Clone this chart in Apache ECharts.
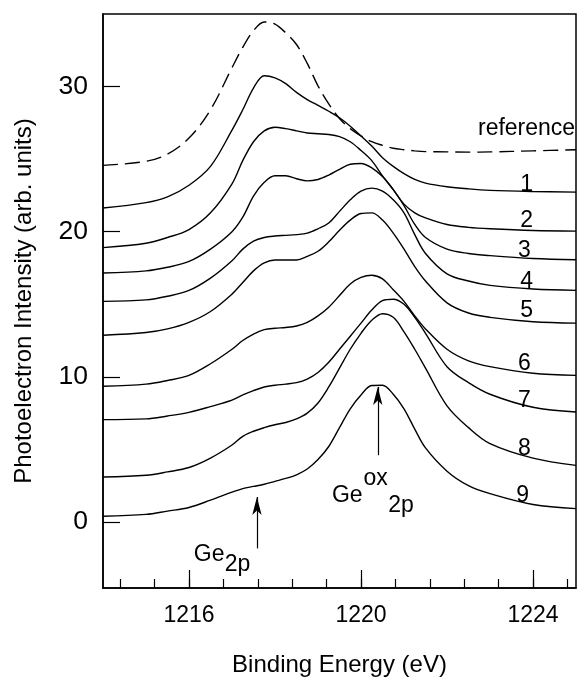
<!DOCTYPE html>
<html><head><meta charset="utf-8">
<script src="https://cdn.jsdelivr.net/npm/echarts@6/dist/echarts.min.js"></script>
<style>html,body{margin:0;padding:0;background:#fff}#c{width:577px;height:679px}</style>
</head><body><div id="c"></div>
<script>
const energy = [1214, 1215, 1215.5, 1216, 1216.5, 1217, 1217.25, 1217.5, 1217.75, 1218, 1218.25, 1218.5, 1218.75, 1219, 1219.25, 1219.5, 1219.75, 1220, 1220.25, 1220.5, 1220.75, 1221, 1221.25, 1221.5, 1222, 1222.5, 1223, 1224, 1225];
const refCurve = [24.57, 24.85, 25.35, 26.45, 28.4, 31.3, 32.7, 33.85, 34.45, 34.3, 33.7, 32.9, 31.6, 30.05, 28.8, 27.8, 27.1, 26.6, 26.2, 25.95, 25.75, 25.65, 25.57, 25.52, 25.5, 25.48, 25.5, 25.57, 25.65];
const curve1 = [21.63, 22.0, 22.4, 23.2, 24.5, 27.0, 28.4, 29.9, 30.75, 30.6, 30.2, 29.6, 29.1, 28.7, 28.3, 27.85, 27.27, 26.6, 25.9, 25.1, 24.5, 24.0, 23.6, 23.35, 23.1, 22.95, 22.85, 22.77, 22.73];
const curve2 = [18.9, 19.2, 19.6, 20.15, 21.3, 23.3, 24.9, 26.2, 26.95, 27.2, 27.1, 26.95, 26.8, 26.75, 26.7, 26.55, 26.2, 25.6, 24.9, 23.85, 22.9, 21.9, 21.3, 20.95, 20.5, 20.3, 20.2, 20.08, 20.04];
const curve3 = [17.15, 17.3, 17.55, 17.95, 18.8, 20.0, 21.0, 22.45, 23.4, 23.85, 23.85, 23.65, 23.5, 23.6, 23.9, 24.3, 24.65, 24.7, 24.4, 23.8, 22.9, 21.8, 20.5, 19.6, 18.8, 18.5, 18.35, 18.15, 18.07];
const curve4 = [15.2, 15.3, 15.55, 15.95, 16.8, 18.0, 18.8, 19.35, 19.6, 19.7, 19.75, 19.8, 19.9, 20.2, 20.6, 21.4, 22.2, 22.8, 23.0, 22.8, 22.2, 21.3, 19.8, 18.5, 17.1, 16.6, 16.3, 16.05, 15.96];
const curve5 = [12.86, 13.05, 13.3, 13.75, 14.5, 15.7, 16.5, 17.3, 17.85, 18.05, 18.05, 18.05, 18.3, 18.65, 19.3, 20.1, 20.8, 21.25, 21.3, 20.8, 19.9, 18.8, 17.6, 16.6, 15.1, 14.4, 14.1, 13.8, 13.7];
const curve6 = [9.35, 9.5, 9.75, 10.1, 10.9, 11.9, 12.5, 12.95, 13.25, 13.35, 13.4, 13.5, 13.75, 14.2, 14.8, 15.6, 16.4, 16.85, 17.0, 16.75, 16.0, 15.2, 14.2, 13.3, 11.9, 11.1, 10.7, 10.25, 10.1];
const curve7 = [7.05, 7.1, 7.3, 7.55, 7.95, 8.4, 8.75, 9.05, 9.3, 9.42, 9.5, 9.6, 9.85, 10.3, 11.0, 11.9, 12.8, 13.7, 14.6, 15.25, 15.35, 15.0, 14.1, 13.0, 10.7, 9.6, 8.8, 7.9, 7.58];
const curve8 = [3.1, 3.22, 3.45, 3.75, 4.4, 5.3, 5.9, 6.25, 6.5, 6.7, 6.85, 7.1, 7.5, 8.2, 9.3, 10.6, 11.9, 13.0, 13.9, 14.35, 14.1, 13.1, 11.9, 10.6, 8.0, 6.5, 5.4, 4.4, 3.9];
const curve9 = [0.39, 0.52, 0.75, 1.0, 1.5, 2.05, 2.3, 2.45, 2.6, 2.8, 3.0, 3.25, 3.65, 4.3, 5.2, 6.5, 7.8, 8.75, 9.4, 9.42, 8.8, 7.8, 6.4, 5.1, 3.5, 2.5, 1.95, 1.2, 0.92];

const curveNames = ['reference', '1', '2', '3', '4', '5', '6', '7', '8', '9'];
const labelE = [1223.85, 1223.85, 1223.85, 1223.8, 1223.85, 1223.85, 1223.8, 1223.8, 1223.8, 1223.76];
const labelI = [27.07, 23.26, 20.78, 18.71, 16.58, 14.55, 10.9, 8.38, 5.05, 1.84];

const annoText = ['Ge', '2p', 'Ge', 'ox', '2p'];
const annoE = [1216.47, 1217.13, 1219.68, 1220.34, 1220.93];
const annoI = [-2.25, -2.95, 1.84, 3.01, 1.12];

const arrowE = [1217.58, 1220.39];
const arrowFromI = [-1.82, 4.6];
const arrowToI = [1.72, 9.3];

const yTicks = [0, 10, 20, 30];
const xMajorTicks = [1216, 1220, 1224];
const xMinorTicks = [1214.4, 1215.2, 1216, 1216.8, 1217.6, 1218.4, 1219.2, 1220, 1220.8, 1221.6, 1222.4, 1223.2, 1224, 1224.8];

const FONT = 'Liberation Sans, Arial, sans-serif';
const curves = [refCurve, curve1, curve2, curve3, curve4, curve5, curve6, curve7, curve8, curve9];

const series = curves.map((c, k) => ({
  name: curveNames[k],
  type: 'line',
  data: energy.map((e, i) => [e, c[i]]),
  smooth: 0.35,
  symbol: 'none',
  lineStyle: { color: '#000', width: 1.4, type: k === 0 ? [15, 7] : 'solid' },
  silent: true
}));

series.push({
  type: 'line',
  data: [],
  symbol: 'none',
  silent: true,
  markLine: {
    silent: true,
    symbol: ['none', 'arrow'],
    symbolSize: [7, 18],
    label: { show: false },
    lineStyle: { color: '#000', width: 1.2, type: 'solid', opacity: 1 },
    data: arrowE.map((e, k) => [{ coord: [e, arrowFromI[k]] }, { coord: [e, arrowToI[k]] }])
  }
});

const chart = echarts.init(document.getElementById('c'), null, { renderer: 'canvas' });
chart.setOption({
  animation: false,
  backgroundColor: '#fff',
  grid: { left: 103, right: 1, top: 14, bottom: 91, containLabel: false, outerBoundsMode: 'none', show: true, borderColor: '#000', borderWidth: 1.5, backgroundColor: 'transparent' },
  xAxis: [{
    type: 'value', min: 1214, max: 1225, position: 'bottom',
    axisLine: { show: true, onZero: false, lineStyle: { color: '#000', width: 1.5 } },
    axisTick: { show: true, inside: true, length: 18, customValues: xMajorTicks, lineStyle: { color: '#000', width: 1.2 } },
    axisLabel: { show: true, customValues: xMajorTicks, formatter: v => String(v), color: '#000', fontSize: 23, fontFamily: FONT, margin: 16 },
    splitLine: { show: false },
    name: 'Binding Energy (eV)', nameLocation: 'middle', nameGap: 65,
    nameTextStyle: { color: '#000', fontSize: 24, fontFamily: FONT }
  }, {
    type: 'value', min: 1214, max: 1225, position: 'bottom',
    axisLine: { show: false, onZero: false },
    axisTick: { show: true, inside: true, length: 9, customValues: xMinorTicks, lineStyle: { color: '#000', width: 1.2 } },
    axisLabel: { show: false },
    splitLine: { show: false }
  }],
  yAxis: {
    type: 'value', min: -4.55, max: 35,
    axisLine: { show: true, onZero: false, lineStyle: { color: '#000', width: 1.5 } },
    axisTick: { show: true, inside: true, length: 17, customValues: yTicks, lineStyle: { color: '#000', width: 1.2 } },
    axisLabel: { show: true, customValues: yTicks, formatter: v => String(v), color: '#000', fontSize: 26.5, fontFamily: FONT, margin: 15 },
    splitLine: { show: false },
    name: 'Photoelectron Intensity (arb. units)', nameLocation: 'middle', nameGap: 67,
    nameTextStyle: { color: '#000', fontSize: 24, fontFamily: FONT }
  },
  series: series
});

function textEl(text, e, i) {
  const p = chart.convertToPixel({ xAxisIndex: 0, yAxisIndex: 0 }, [e, i]);
  return {
    type: 'text', x: p[0], y: p[1], silent: true, z: 100,
    style: { text: text, fill: '#000', font: '23px ' + FONT, align: 'center', verticalAlign: 'middle' }
  };
}
const graphics = [];
curveNames.forEach((n, k) => graphics.push(textEl(n, labelE[k], labelI[k])));
annoText.forEach((t, k) => graphics.push(textEl(t, annoE[k], annoI[k])));
chart.setOption({ graphic: graphics });
</script></body></html>
